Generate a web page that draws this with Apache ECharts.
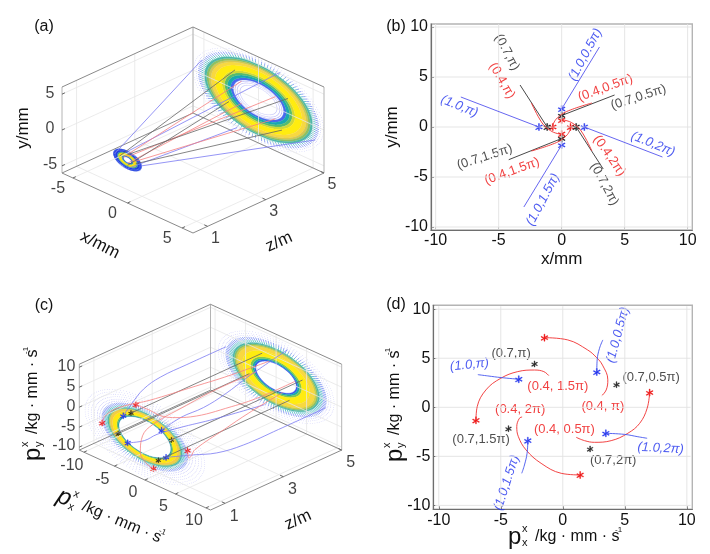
<!DOCTYPE html>
<html><head><meta charset="utf-8">
<style>html,body{margin:0;padding:0;background:#fff}#c{width:710px;height:554px}</style>
<script src="https://cdn.jsdelivr.net/npm/echarts@6/dist/echarts.min.js"></script>
</head><body><div id="c"></div>
<script>
// ---------- data ----------
const tickB = [-10,-5,0,5,10];
const zTicks = [1,3,5];
const aTicks = [-5,0,5];
const cTicks = [-10,-5,0,5,10];

// panel (b): waist positions and far-field ends
const bBlueStars = [[-1.8,0],[0,1.8],[1.8,0],[0,-1.8]];
const bBlackStars = [[-1.15,0],[0,1.15],[1.15,0],[0,-1.15]];
const bRedStars = [[-0.7,0],[0,0.7],[0.7,0],[0,-0.7]];
const bBlueEnds = [[-8,3],[3,8],[8,-3],[-3,-8]];
const bBlackEnds = [[-3.3,4.2],[4.2,3.2],[3.3,-4.2],[-4.2,-3.27]];
const bRed1 = [[-2.4,2.4],[-1.55,0.4],[-0.9,-0.35],[-0.35,-0.65],[0,-0.7]];
const bRed2 = [[2.4,2.4],[0.4,1.55],[-0.35,0.9],[-0.65,0.35],[-0.7,0]];
const bRed3 = [[2.4,-2.4],[1.55,-0.4],[0.9,0.35],[0.35,0.65],[0,0.7]];
const bRed4 = [[-2.4,-2.4],[-0.4,-1.55],[0.35,-0.9],[0.65,-0.35],[0.7,0]];
const bLabelText = ['(0.7,π)','(0.4,π)','(1.0,0.5π)','(0.4,0.5π)','(0.7,0.5π)','(1.0,π)','(1.0,2π)','(0.4,2π)','(0.7,2π)','(0.7,1.5π)','(0.4,1.5π)','(1.0,1.5π)'];
const bLabelPos = [[-4.34,7.47],[-4.74,4.63],[1.88,7.23],[3.47,3.9],[6.1,2.97],[-8.12,2.07],[7.25,-1.7],[3.78,-2.87],[3.39,-5.7],[-6.11,-3],[-3.94,-4.43],[-1.48,-7.27]];
const bLabelRot = [-62,-60,62,20,18,-22,-22,-55,-62,18,20,62];
const bLabelKind = ['k','r','b','r','k','b','b','r','k','k','r','b'];

// panel (d): momentum positions and red/blue trajectories
const dRedStars = [[-1.48,7.1],[7,1.5],[1.4,-6.9],[-7,-1.33]];
const dBlueStars = [[2.74,3.6],[-3.55,2.86],[-2.82,-3.4],[3.47,-2.65]];
const dBlackStars = [[-2.28,4.42],[4.33,2.31],[2.2,-4.25],[-4.38,-2.18]];
const dArcA = [[-1.48,7.1],[0.4,6.87],[2,5.85],[2.7,5.1],[3.2,4.3],[3.63,2.8],[3.5,1.77],[3.15,1.19]];
const dArcB = [[7,1.5],[6.8,-0.1],[6.2,-1.63],[5.24,-2.65],[3.9,-3.4],[2.55,-3.57],[1.75,-3.4],[1.08,-3.06]];
const dArcC = [[1.4,-6.9],[-0.13,-6.73],[-1.75,-5.71],[-2.96,-4.35],[-3.58,-3],[-3.71,-1.97],[-3.5,-1.12],[-3.28,-0.99]];
const dArcD = [[-7,-1.33],[-6.9,0.07],[-6.2,1.77],[-5,2.96],[-3.63,3.64],[-2.28,3.8],[-1.53,3.64],[-1.13,3.23]];
const dTail1 = [[2.74,3.6],[2.77,4.83],[2.96,6.02],[3.23,6.87]];
const dTail2 = [[-3.55,2.86],[-4.97,3.03],[-6.05,3.2],[-6.85,3.33]];
const dTail3 = [[-2.82,-3.4],[-2.88,-4.69],[-3.09,-5.88],[-3.31,-6.73]];
const dTail4 = [[3.47,-2.65],[4.97,-2.76],[6.05,-3],[6.8,-3.16]];
const dLabelText = ['(0.7,π)','(1.0,π)','(0.4, 1.5π)','(0.7,0.5π)','(0.4, π)','(0.4, 2π)','(0.4, 0.5π)','(0.7,1.5π)','(1.0,2π)','(0.7,2π)','(1.0,0.5π)','(1.0,1.5π)'];
const dLabelPos = [[-4.17,5.5],[-7.53,4.32],[-0.4,2.1],[7.12,3.03],[3.23,0.07],[-3.44,-0.2],[0.13,-2.24],[-6.59,-3.27],[7.88,-4.18],[4.06,-5.44],[4.44,7.38],[-4.52,-7.69]];
const dLabelRot = [0,6,0,0,0,0,0,0,-3,0,75,72];
const dLabelKind = ['k','b','r','k','r','r','r','k','b','k','b','b'];

// panel (a): position at z=0.5 and z=5
const aBlueNear = [[-1.2,0],[0,1.2],[1.2,0],[0,-1.2]];
const aBlackNear = [[-0.75,0],[0,0.75],[0.75,0],[0,-0.75]];
const aRedNear = [[-0.45,0],[0,0.45],[0.45,0],[0,-0.45]];
const aBlueFar = [[-5.2,1.95],[1.95,5.2],[5.2,-1.95],[-1.95,-5.2]];
const aBlackFar = [[-2.15,2.7],[2.7,2.1],[2.15,-2.7],[-2.7,-2.1]];
const aRedFar = [[-1.55,1.55],[1.55,1.55],[1.55,-1.55],[-1.55,-1.55]];
const zNear = 0.5, zFar = 5;

// panel (c): trajectories (px, py, z)
const cBlue1 = [[-3.55,2.86,0.5],[-5,3,1.11],[-6,3.8,1.71],[-6.8,3.75,2.45],[-7.5,2.9,3.51],[-8.2,1.9,5]];
const cBlue2 = [[2.74,3.6,0.5],[3,5,1.11],[3.8,6,1.71],[3.75,6.8,2.45],[2.9,7.5,3.51],[1.9,8.2,5]];
const cBlue3 = [[-2.82,-3.4,0.5],[-3,-5,1.11],[-3.8,-6,1.71],[-3.75,-6.8,2.45],[-2.9,-7.5,3.51],[-1.9,-8.2,5]];
const cBlue4 = [[3.47,-2.65,0.5],[5,-3,1.11],[6,-3.8,1.71],[6.8,-3.75,2.45],[7.5,-2.9,3.51],[8.2,-1.9,5]];
const cRedZ = [0.5,0.56,0.71,1,1.4,2.7,3.7,5];

// rings: radial rows (inner, outer radius)
const aFarRows = [[1.7,1.7],[1.95,1.95],[2.15,2.15],[2.3,2.55],[2.55,2.85],[2.85,3.1],[3.1,3.35],[3.35,4.0],[4.0,4.35],[4.35,4.55],[4.55,4.75],[4.75,4.95],[4.95,5.25],[5.25,5.55],[5.7,5.7],[5.95,5.95]];
const aFarKinds = ['d','d','d','f','f','f','f','f','f','f','f','f','s','s','d','d'];
const aFarColors = ['#b5b5f5','#a0a0f5','#8c8cf5','#4a68ee','#18a8b0','#55bb70','#cfd838','#ffec10','#f8d840','#d8c850','#90c060','#50b8a8','#48b8c0','#7c90f2','#a9a9f5','#c0c0f8'];
const aNearRows = [[0.36,0.46],[0.46,0.55],[0.55,0.85],[0.85,0.95],[0.95,1.12],[1.12,1.3]];
const aNearKinds = ['f','f','f','f','f','s'];
const aNearColors = ['#3050e0','#20a8b0','#f8e010','#40b080','#2040e0','#2040e0'];
const cFarRows = [[3.3,3.55],[3.55,3.85],[3.85,4.2],[4.2,5.5],[5.5,6.3],[6.3,6.6],[6.6,6.85],[6.85,7.1],[7.1,7.7],[7.7,8.3],[8.6,8.6],[9,9],[9.5,9.5]];
const cFarKinds = ['f','f','f','f','f','f','f','f','s','s','d','d','d'];
const cFarColors = ['#3a58ee','#18a8b0','#7cc850','#ffec10','#f8d840','#d8d040','#90c060','#50b8a8','#48b8c0','#7c90f2','#a9a9f5','#b5b5f5','#c0c0f8'];
const cNearRows = [[4.25,4.4],[4.4,4.6],[4.6,5.3],[5.3,5.7],[5.7,5.9],[5.9,6.1],[6.1,6.6],[6.6,7.1],[7.4,7.4],[7.8,7.8],[8.3,8.3],[8.8,8.8],[9.3,9.3],[9.8,9.8]];
const cNearKinds = ['f','f','f','f','f','f','s','s','d','d','d','d','d','d'];
const cNearColors = ['#1a90b0','#60c070','#ffe810','#f6cc40','#c0c850','#50b8a8','#48b8c0','#7c90f2','#9a9af5','#a9a9f5','#b5b5f5','#b5b5f5','#c0c0f8','#c0c0f8'];

// ---------- styles and projection ----------
const FONT = '"Liberation Sans", Arial, sans-serif';
const BLUE = '#7a7af2', RED = '#f58080', DARK = '#666666';
const KIND_COL = {k:'#222222', r:'#ee1111', b:'#2233ee'};
const ASTER = 'path://M4.4 0h1.2v3.9l3.4-2 .6 1-3.4 2 3.4 2-.6 1-3.4-2v3.9H4.4V6.9l-3.4 2-.6-1 3.4-2-3.4-2 .6-1 3.4 2z';
const FA = 30/103, FB = 43/103;
const boxA = {g:0, xh:6, yh:6};
const boxC = {g:2, xh:10.75, yh:10.75};
function proj(b, p){
  const nx = p[0]/b.xh, ny = p[1]/b.yh, nz = (p[2]-2.75)/2.25;
  return [(nx+nz)/2, (nz-nx)*FA + ny*FB];
}
function segs(b, list){
  const out=[]; list.forEach(s=>{ out.push(proj(b,s[0]),proj(b,s[1]),['-','-']); }); return out;
}
function line(g, data, color, width, smooth){
  return {type:'line',xAxisIndex:g,yAxisIndex:g,data,symbol:'none',silent:true,smooth:smooth||false,connectNulls:false,
    clip:false,lineStyle:{color,width},emphasis:{disabled:true}};
}
function stars(g, data, color, size){
  return {type:'scatter',xAxisIndex:g,yAxisIndex:g,data,symbol:ASTER,symbolSize:size,silent:true,clip:false,
    itemStyle:{color,borderColor:color,borderWidth:0.4,opacity:1}};
}
function labels(g, texts, pos, rot, kinds, size){
  return {type:'scatter',xAxisIndex:g,yAxisIndex:g,symbolSize:1,silent:true,clip:false,itemStyle:{color:'rgba(0,0,0,0)'},
    data:texts.map((t,i)=>({value:pos[i],label:{show:true,position:'inside',formatter:t,rotate:rot[i],fontSize:size,
      fontFamily:FONT,fontStyle:kinds[i]==='b'?'italic':'normal',color:KIND_COL[kinds[i]],align:'center',verticalAlign:'middle'}}))};
}
function tickLabels(g, pts, texts, off, align){
  return {type:'scatter',xAxisIndex:g,yAxisIndex:g,symbolSize:1,silent:true,clip:false,itemStyle:{color:'rgba(0,0,0,0)'},
    data:pts.map((p,i)=>({value:p,label:{show:true,position:'inside',formatter:texts[i],offset:off,fontSize:16,fontFamily:FONT,
      color:'#111',align:align||'center',verticalAlign:'middle'}}))};
}
function ring(b, z, rows, kinds, colors){
  const SPK=120, SEG=90;
  return {type:'custom',coordinateSystem:'cartesian2d',xAxisIndex:b.g,yAxisIndex:b.g,silent:true,clip:false,
    data:rows.map((r,i)=>[i,r[0],r[1]]),
    encode:{x:1,y:2},
    renderItem:function(params,api){
      const i=params.dataIndex, r0=rows[i][0], r1=rows[i][1], col=colors[i], kind=kinds[i];
      const pt=(r,a)=>api.coord(proj(b,[r*Math.cos(a),r*Math.sin(a),z]));
      if(kind==='f'){
        const pts=[];
        for(let k=0;k<=SEG;k++) pts.push(pt(r1,k/SEG*2*Math.PI));
        for(let k=SEG;k>=0;k--) pts.push(pt(r0,k/SEG*2*Math.PI));
        return {type:'polygon',shape:{points:pts},style:{fill:col,stroke:col,lineWidth:0.3}};
      }
      const ch=[];
      for(let k=0;k<SPK;k++){
        const a=k/SPK*2*Math.PI;
        if(kind==='s'){
          const p=pt(r0,a),q=pt(r1,a);
          ch.push({type:'line',shape:{x1:p[0],y1:p[1],x2:q[0],y2:q[1]},style:{stroke:col,lineWidth:0.8}});
        } else {
          const p=pt(r0,a);
          ch.push({type:'circle',shape:{cx:p[0],cy:p[1],r:0.4},style:{fill:col}});
        }
      }
      return {type:'group',children:ch};
    }};
}
function box(b, xT, yT){
  const X=b.xh,Y=b.yh,Z0=0.5,Z1=5, g=b.g, light=[], edges=[], verts=[];
  xT.forEach(v=>{ light.push([[v,-Y,Z0],[v,-Y,Z1]],[[v,-Y,Z1],[v,Y,Z1]]); });
  yT.forEach(v=>{ light.push([[-X,v,Z0],[-X,v,Z1]],[[-X,v,Z1],[X,v,Z1]]); });
  zTicks.forEach(v=>{ light.push([[-X,-Y,v],[X,-Y,v]],[[-X,-Y,v],[-X,Y,v]]); });
  edges.push([[X,-Y,Z0],[X,-Y,Z1]],[[-X,-Y,Z0],[X,-Y,Z0]],[[-X,-Y,Z0],[-X,-Y,Z1]],[[-X,-Y,Z1],[X,-Y,Z1]],
             [[-X,Y,Z0],[-X,Y,Z1]],[[-X,Y,Z1],[X,Y,Z1]]);
  verts.push([[-X,-Y,Z0],[-X,Y,Z0]],[[X,-Y,Z1],[X,Y,Z1]],[[-X,-Y,Z1],[-X,Y,Z1]]);
  const tk=[]; const tx=X*0.05, tz=0.1;
  xT.forEach(v=>tk.push([[v,-Y,Z0],[v,-Y,Z0+tz]]));
  zTicks.forEach(v=>tk.push([[X,-Y,v],[X-tx,-Y,v]]));
  yT.forEach(v=>tk.push([[-X,v,Z0],[-X,v,Z0+tz]]));
  return [line(g,segs(b,light),'#e6e6e6',0.8), line(g,segs(b,verts),'#b4b4b4',1),
          line(g,segs(b,edges),'#8a8a8a',1), line(g,segs(b,tk),'#666',1)];
}
function straight(b, near, far, z0, z1, color, w){
  return near.map((n,i)=>line(b.g,[proj(b,[n[0],n[1],z0]),proj(b,[far[i][0],far[i][1],z1])],color,w));
}
function gridLines2D(g, vals, lim){
  const d=[];
  vals.forEach(v=>{ d.push([v,-lim],[v,lim],['-','-'],[-lim,v],[lim,v],['-','-']); });
  return line(g,d,'#e2e2e2',0.9);
}

// ---------- series ----------
const series = [];
// (a)
series.push(...box(boxA,aTicks,aTicks));
series.push(ring(boxA,zFar,aFarRows,aFarKinds,aFarColors));
series.push(ring(boxA,zNear,aNearRows,aNearKinds,aNearColors));
series.push(...straight(boxA,aBlueNear,aBlueFar,zNear,zFar,BLUE,0.8));
series.push(...straight(boxA,aRedNear,aRedFar,zNear,zFar,RED,0.8));
series.push(...straight(boxA,aBlackNear,aBlackFar,zNear,zFar,DARK,0.8));
series.push(tickLabels(0,aTicks.map(v=>proj(boxA,[-6,v,0.5])),aTicks.map(String),[-12,-1],'center'));
series.push(tickLabels(0,aTicks.map(v=>proj(boxA,[v,-6,0.5])),aTicks.map(String),[-15,11]));
series.push(tickLabels(0,zTicks.map(v=>proj(boxA,[6,-6,v])),zTicks.map(String),[8,12]));
// (b)
series.push(gridLines2D(1,tickB,10.3));
bBlueStars.forEach((s,i)=>series.push(line(1,[s,bBlueEnds[i]],'#5555ee',0.9)));
bBlackStars.forEach((s,i)=>series.push(line(1,[s,bBlackEnds[i]],'#333',0.9)));
[bRed1,bRed2,bRed3,bRed4].forEach(a=>series.push(line(1,a,'#f03030',0.9,0.4)));
series.push(stars(1,bRedStars,'#ee1111',7),stars(1,bBlueStars,'#2233ee',7),stars(1,bBlackStars,'#111',7));
series.push(labels(1,bLabelText,bLabelPos,bLabelRot,bLabelKind,13));
// (c)
series.push(...box(boxC,cTicks,cTicks));
series.push(ring(boxC,zFar,cFarRows,cFarKinds,cFarColors));
series.push(...straight(boxC,dBlackStars,dBlackStars,zNear,zFar,DARK,0.8));
[cBlue1,cBlue2,cBlue3,cBlue4].forEach(a=>series.push(line(2,a.map(p=>proj(boxC,p)),BLUE,0.8,0.4)));
[dArcA,dArcB,dArcC,dArcD].forEach(a=>series.push(line(2,a.map((p,i)=>proj(boxC,[p[0],p[1],cRedZ[i]])),RED,0.8,0.4)));
series.push(ring(boxC,zNear,cNearRows,cNearKinds,cNearColors));
const nearP = a=>a.map(p=>proj(boxC,[p[0],p[1],zNear]));
series.push(stars(2,nearP(dRedStars),'#ee2222',6),stars(2,nearP(dBlueStars),'#2233ee',6),stars(2,nearP(dBlackStars),'#222',5));
series.push(tickLabels(2,cTicks.map(v=>proj(boxC,[-10.75,v,0.5])),cTicks.map(String),[-4,-1],'right'));
series.push(tickLabels(2,cTicks.map(v=>proj(boxC,[v,-10.75,0.5])),cTicks.map(String),[-12,13]));
series.push(tickLabels(2,zTicks.map(v=>proj(boxC,[10.75,-10.75,v])),zTicks.map(String),[9,13]));
// (d)
series.push(gridLines2D(3,tickB,10.3));
[dArcA,dArcB,dArcC,dArcD].forEach(a=>series.push(line(3,a,'#f03030',0.9,0.4)));
[dTail1,dTail2,dTail3,dTail4].forEach(a=>series.push(line(3,a,'#4455ee',0.9,0.4)));
series.push(stars(3,dRedStars,'#ee1111',7),stars(3,dBlueStars,'#2233ee',7),stars(3,dBlackStars,'#222',6));
series.push(labels(3,dLabelText,dLabelPos,dLabelRot,dLabelKind,13));

// ---------- axes ----------
function hiddenAxis(g){ return {type:'value',gridIndex:g,min:-1,max:1,show:false,splitLine:{show:false}}; }
function realAxis(g, pos, lim, nameText, gap){
  return {type:'value',gridIndex:g,position:pos,min:-lim,max:lim,name:nameText,nameLocation:'middle',nameGap:gap,
    nameTextStyle:{fontSize:17,fontFamily:FONT,color:'#111'},
    axisLine:{show:true,onZero:false,lineStyle:{color:'#6e6e6e',width:1.2}},
    axisTick:{show:true,inside:true,length:3,customValues:tickB,lineStyle:{color:'#6e6e6e'}},
    axisLabel:{show:true,customValues:tickB,fontSize:16,fontFamily:FONT,color:'#111',margin:3,hideOverlap:false,showMinLabel:true,showMaxLabel:true},
    splitLine:{show:false}};
}
const grids = [
  {left:62,top:27,width:262,height:206},
  {left:431,top:24,width:261.3,height:206,show:true,borderColor:'#b4b4b4',borderWidth:1.4,backgroundColor:'transparent'},
  {left:79.3,top:304.3,width:262.4,height:205.7},
  {left:433.3,top:305.3,width:259,height:204,show:true,borderColor:'#b4b4b4',borderWidth:1.4,backgroundColor:'transparent'}
];
const xAxes = [hiddenAxis(0),realAxis(1,'bottom',10.37,'x/mm',21),hiddenAxis(2),realAxis(3,'bottom',10.44,'',20)];
const yAxes = [hiddenAxis(0),realAxis(1,'left',10.3,'y/mm',30),hiddenAxis(2),realAxis(3,'left',10.4,'',20)];

// ---------- free text ----------
function txt(t,x,y,size,rotDeg,style){
  return {type:'text',x,y,rotation:(rotDeg||0)*Math.PI/180,
    style:{text:t,font:(style||'')+' '+size+'px '+FONT,fill:'#111',align:'center',verticalAlign:'middle'}};
}
function formula(x,y,rotDeg,sub,italicP){
  const part=(t,dx,dy,size,it)=>({type:'text',x:dx,y:dy,style:{text:t,font:(it?'italic ':'')+size+'px '+FONT,fill:'#111',align:'left',verticalAlign:'middle'}});
  return {type:'group',x,y,rotation:rotDeg*Math.PI/180,children:[
    part('p',0,0,24,italicP),part('x',14,-8,11),part(sub,14,6,11),
    part('/kg · mm · s',27,0,16),part('-1',107,-7,8)]};
}
const graphic = [
  txt('(a)',44,27,16), txt('(b)',396,27,16), txt('(c)',44,306,16), txt('(d)',396,305,16),
  txt('x/mm',100,245,17,-27), txt('z/m',279,242,17,24), txt('y/mm',23,128,17,90),
  txt('z/m',298,520,17,24),
  formula(33,461,90,'y',false),
  formula(58,495,-23,'x',true),
  formula(508,537,0,'x',false),
  formula(395,462,90,'y',false)
];

const chart = echarts.init(document.getElementById('c'),null,{renderer:'canvas'});
chart.setOption({animation:false,backgroundColor:'#fff',tooltip:{show:false},legend:{show:false},
  grid:grids,xAxis:xAxes,yAxis:yAxes,series,graphic});
</script></body></html>
